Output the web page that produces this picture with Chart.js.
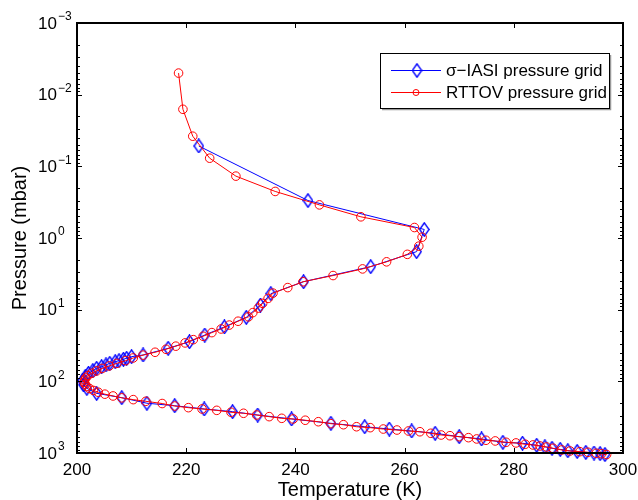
<!DOCTYPE html>
<html>
<head>
<meta charset="utf-8">
<script src="https://cdn.jsdelivr.net/npm/chart.js@4"></script>
<style>
  body { margin: 0; background: #fff; }
  canvas { display: block; }
</style>
</head>
<body>
<canvas id="chart" width="638" height="500"></canvas>
<script>
// sigma-IASI grid: temperature (K) and pressure (mbar)
const iasiTemp = [222.3, 242.3, 263.6, 262.2, 253.8, 241.5, 235.5, 233.6, 231.0, 227.0,
  223.4, 220.6, 216.7, 212.1, 210.0, 209.1, 208.5, 207.7, 207.0, 206.0,
  205.3, 204.5, 203.6, 202.9, 202.1, 201.5, 201.0, 201.2, 201.8, 203.6,
  208.2, 212.8, 217.9, 223.3, 228.5, 233.1, 239.3, 246.5, 252.7, 257.2,
  261.3, 265.6, 270.0, 274.1, 278.0, 281.6, 284.2, 285.7, 287.0, 288.5,
  289.9, 291.6, 293.2, 294.7, 295.8, 296.7];
const iasiPres = [0.052, 0.30, 0.76, 1.55, 2.51, 4.07, 5.98, 8.61, 12.8, 17.4,
  22.6, 28.0, 34.6, 42.9, 45.3, 47.7, 49.2, 51.5, 53.2, 56.0,
  59.1, 62.5, 65.8, 71.0, 77.2, 86.1, 98.0, 112, 125, 147,
  169, 202, 219, 243, 265, 295, 335, 385, 430, 463,
  493, 531, 592, 637, 709, 731, 780, 820, 860, 890,
  930, 950, 980, 1000, 1020, 1050];

// RTTOV grid
const rttovTemp = [218.6, 219.4, 221.2, 224.3, 229.1, 236.3, 244.4, 252.0, 261.8, 263.2,
  262.6, 260.5, 256.7, 252.3, 246.9, 241.4, 238.6, 235.9, 235.0, 234.0,
  233.2, 232.2, 231.4, 229.5, 227.9, 226.4, 224.7, 223.1, 221.3, 219.8,
  218.1, 216.3, 214.3, 212.1, 210.3, 208.9, 207.3, 205.9, 204.6, 203.6,
  202.7, 202.0, 201.6, 201.4, 201.3, 201.5, 201.8, 202.3, 203.0, 203.9,
  205.1, 206.6, 208.2, 210.3, 212.6, 215.6, 217.9, 220.4, 222.9, 225.6,
  228.2, 230.5, 232.9, 235.2, 237.5, 239.6, 241.8, 244.2, 246.5, 248.8,
  251.2, 253.7, 256.1, 258.6, 260.7, 262.8, 264.8, 266.7, 268.3, 270.0,
  271.7, 273.2, 274.9, 276.6, 278.6, 280.4, 282.1, 283.5, 284.8, 286.0,
  287.2, 288.8, 290.3, 292.1, 293.6, 295.1, 296.1, 297.0];
const rttovPres = [0.005, 0.016, 0.038, 0.077, 0.137, 0.224, 0.345, 0.506, 0.714, 0.975,
  1.30, 1.69, 2.15, 2.70, 3.34, 4.08, 4.92, 5.88, 6.96, 8.17,
  9.51, 11.0, 12.6, 14.5, 16.4, 18.6, 20.9, 23.5, 26.2, 29.1,
  32.3, 35.7, 39.3, 43.1, 47.2, 51.5, 56.1, 61.0, 66.1, 71.5,
  77.2, 83.2, 89.5, 96.1, 103, 110, 118, 126, 134, 142,
  151, 160, 170, 180, 190, 204, 221, 233, 243, 254,
  270, 279, 295, 311, 328, 335, 349, 366, 390, 403,
  430, 443, 463, 478, 493, 505, 531, 561, 574, 592,
  611, 637, 664, 679, 709, 724, 755, 772, 798, 824,
  859, 907, 937, 958, 977, 1009, 1023, 1050];

const xTicks = [200, 220, 240, 260, 280, 300];
const yExponents = [-3, -2, -1, 0, 1, 2, 3];
const seriesNames = ['\u03C3\u2212IASI pressure grid', 'RTTOV pressure grid'];

const FONT = '"Liberation Sans", Arial, sans-serif';

// MATLAB style diamond marker (a bit taller than wide)
function makeDiamond(w, h, color) {
  const c = document.createElement('canvas');
  c.width = w;
  c.height = h;
  const g = c.getContext('2d');
  g.strokeStyle = color;
  g.lineWidth = 1.4;
  g.beginPath();
  g.moveTo(w / 2, 0.8);
  g.lineTo(w - 0.8, h / 2);
  g.lineTo(w / 2, h - 0.8);
  g.lineTo(0.8, h / 2);
  g.closePath();
  g.stroke();
  return c;
}
const diamond = makeDiamond(11, 15, '#0000ff');

// box, inward ticks, tick labels, titles and legend
const axesPlugin = {
  id: 'matlabAxes',
  afterDraw(chart) {
    const ctx = chart.ctx;
    const xs = chart.scales.x;
    const ys = chart.scales.y;
    const a = chart.chartArea;
    ctx.save();
    ctx.strokeStyle = '#000';
    ctx.fillStyle = '#000';

    // ticks
    ctx.lineWidth = 1;
    ctx.beginPath();
    xTicks.forEach(v => {
      const x = Math.round(xs.getPixelForValue(v)) + 0.5;
      ctx.moveTo(x, a.bottom); ctx.lineTo(x, a.bottom - 5);
      ctx.moveTo(x, a.top); ctx.lineTo(x, a.top + 5);
    });
    yExponents.forEach(e => {
      const y = Math.round(ys.getPixelForValue(Math.pow(10, e))) + 0.5;
      ctx.moveTo(a.left, y); ctx.lineTo(a.left + 5, y);
      ctx.moveTo(a.right, y); ctx.lineTo(a.right - 5, y);
      if (e < 3) {
        for (let m = 2; m <= 9; m++) {
          const ym = Math.round(ys.getPixelForValue(m * Math.pow(10, e))) + 0.5;
          ctx.moveTo(a.left, ym); ctx.lineTo(a.left + 3, ym);
          ctx.moveTo(a.right, ym); ctx.lineTo(a.right - 3, ym);
        }
      }
    });
    ctx.stroke();

    // box
    ctx.lineWidth = 2;
    ctx.strokeRect(a.left, a.top, a.right - a.left, a.bottom - a.top);

    // x tick labels
    ctx.font = '17px ' + FONT;
    ctx.textAlign = 'center';
    ctx.textBaseline = 'middle';
    xTicks.forEach(v => {
      ctx.fillText(String(v), xs.getPixelForValue(v), 470);
    });

    // y tick labels 10^e
    yExponents.forEach(e => {
      const y = ys.getPixelForValue(Math.pow(10, e));
      ctx.textAlign = 'left';
      ctx.font = '17px ' + FONT;
      ctx.fillText('10', 38, y + 1);
      const w = ctx.measureText('10').width;
      ctx.font = '12px ' + FONT;
      ctx.fillText(e < 0 ? '\u2212' + Math.abs(e) : String(e), 38 + w + 1, y - 6);
    });

    // axis titles
    ctx.font = '20px ' + FONT;
    ctx.textAlign = 'center';
    ctx.fillText('Temperature (K)', (a.left + a.right) / 2, 490);
    ctx.save();
    ctx.translate(20, (a.top + a.bottom) / 2);
    ctx.rotate(-Math.PI / 2);
    ctx.fillText('Pressure (mbar)', 0, 0);
    ctx.restore();

    // legend
    const lx = 380, ly = 53, lw = 229, lh = 55;
    ctx.fillStyle = '#fff';
    ctx.fillRect(lx, ly, lw, lh);
    ctx.strokeStyle = '#999';
    ctx.lineWidth = 1.5;
    ctx.beginPath();
    ctx.moveTo(lx + 2, ly + lh + 1.5); ctx.lineTo(lx + lw + 1.5, ly + lh + 1.5);
    ctx.lineTo(lx + lw + 1.5, ly + 2);
    ctx.stroke();
    ctx.strokeStyle = '#000';
    ctx.lineWidth = 1;
    ctx.strokeRect(lx + 0.5, ly + 0.5, lw, lh);

    ctx.lineWidth = 1;
    ctx.strokeStyle = '#0000ff';
    ctx.beginPath();
    ctx.moveTo(391, 70.5); ctx.lineTo(441, 70.5);
    ctx.stroke();
    ctx.drawImage(diamond, 417 - 5.5, 70.5 - 7.5);

    ctx.strokeStyle = '#ff0000';
    ctx.beginPath();
    ctx.moveTo(391, 92.5); ctx.lineTo(441, 92.5);
    ctx.stroke();
    ctx.beginPath();
    ctx.arc(416, 92.5, 3, 0, Math.PI * 2);
    ctx.stroke();

    ctx.fillStyle = '#000';
    ctx.font = '17px ' + FONT;
    ctx.textAlign = 'left';
    ctx.textBaseline = 'middle';
    ctx.fillText(seriesNames[0], 446, 71);
    ctx.fillText(seriesNames[1], 446, 93);
    ctx.restore();
  }
};

const ctx = document.getElementById('chart').getContext('2d');
new Chart(ctx, {
  type: 'scatter',
  data: {
    datasets: [
      {
        label: seriesNames[0],
        data: iasiTemp.map((t, i) => ({ x: t, y: iasiPres[i] })),
        showLine: true,
        borderColor: '#0000ff',
        borderWidth: 1,
        pointStyle: diamond,
        pointRadius: 7,
        clip: false,
        order: 2
      },
      {
        label: seriesNames[1],
        data: rttovTemp.map((t, i) => ({ x: t, y: rttovPres[i] })),
        showLine: true,
        borderColor: '#ff0000',
        borderWidth: 1,
        pointStyle: 'circle',
        pointRadius: 4.3,
        pointBorderColor: '#ff0000',
        pointBackgroundColor: 'rgba(0,0,0,0)',
        pointBorderWidth: 1,
        clip: false,
        order: 1
      }
    ]
  },
  options: {
    responsive: false,
    animation: false,
    devicePixelRatio: 1,
    layout: { padding: { left: 77, right: 15, top: 23, bottom: 47 } },
    plugins: {
      legend: { display: false },
      tooltip: { enabled: false }
    },
    scales: {
      x: { type: 'linear', min: 200, max: 300, display: false },
      y: { type: 'logarithmic', min: 1e-3, max: 1e3, reverse: true, display: false }
    }
  },
  plugins: [axesPlugin]
});
</script>
</body>
</html>
